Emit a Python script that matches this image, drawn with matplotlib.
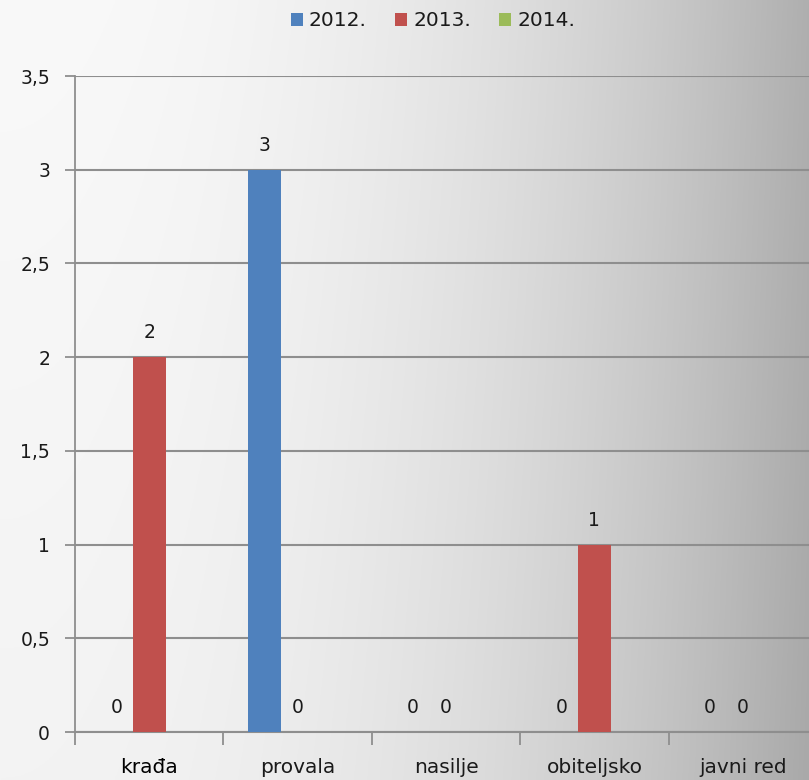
import numpy as np
import matplotlib
matplotlib.use("Agg")
import matplotlib.pyplot as plt
from matplotlib.patches import Patch
from matplotlib.ticker import FuncFormatter

categories = ["krađa", "provala", "nasilje", "obiteljsko", "javni red"]
series_names = ["2012.", "2013.", "2014."]
v2012 = [0, 3, 0, 0, 0]
v2013 = [2, 0, 0, 1, 0]
v2014 = [None, None, None, None, None]
colors = ["#4f81bd", "#c0504d", "#9bbb59"]

W, H = 809, 780
fig = plt.figure(figsize=(W / 100, H / 100), dpi=100)

# background gradient
bg = fig.add_axes([0, 0, 1, 1], zorder=-10)
xx = np.linspace(0, 1, 400)
yy = np.linspace(0, 1, 200)
X, Y = np.meshgrid(xx, yy)
G = 249 - 74 * X ** 2.2 - 6 * Y
img = np.dstack([G, G, G]) / 255.0
bg.imshow(img, aspect="auto", extent=[0, 1, 0, 1], origin="upper")
bg.set_axis_off()

# axes: left 75px, right ~817px, bottom y=732, top y=76
left = 75 / W
right = 817 / W
bottom = 1 - 732 / H
top = 1 - 76 / H
ax = fig.add_axes([left, bottom, right - left, top - bottom])
ax.patch.set_alpha(0)

n = len(categories)
x = np.arange(n)
bw = 0.222
all_series = [v2012, v2013, v2014]
for i, (vals, c) in enumerate(zip(all_series, colors)):
    off = (i - 1) * bw
    for xi, v in zip(x, vals):
        if v is None:
            continue
        ax.bar(xi + off, v, width=bw, color=c, zorder=3)
        ax.text(xi + off, v + 0.08, f"{v}", ha="center", va="bottom",
                fontsize=13.5, color="#1a1a1a", zorder=4)

ax.set_xlim(-0.5, n - 0.5)
ax.set_ylim(0, 3.5)
ax.set_yticks(np.arange(0, 3.51, 0.5))
ax.yaxis.set_major_formatter(FuncFormatter(
    lambda v, p: (f"{v:g}").replace(".", ",")))
ax.yaxis.grid(True, color="#8e8e8e", linewidth=1.5, zorder=1)
ax.set_axisbelow(True)

for s in ["top", "right"]:
    ax.spines[s].set_visible(False)
ax.spines["left"].set_color("#8e8e8e")
ax.spines["left"].set_linewidth(1.3)
ax.spines["bottom"].set_color("#8e8e8e")
ax.spines["bottom"].set_linewidth(1.5)

ax.tick_params(axis="y", length=7, width=1.3, color="#8e8e8e",
               labelsize=13.5, labelcolor="#1a1a1a", pad=11)
ax.set_xticks(np.arange(-0.5, n, 1.0))
ax.set_xticklabels([])
ax.tick_params(axis="x", length=9, width=1.3, color="#8e8e8e")
for xi, cat in zip(x, categories):
    ax.text(xi, -0.19, cat, ha="center", va="center", fontsize=14.5,
            color="#000000" if xi == 0 else "#1a1a1a",
            transform=ax.transData, clip_on=False)

handles = [Patch(facecolor=c, edgecolor="none") for c in colors]
fig.legend(handles, series_names, loc="center", bbox_to_anchor=(433 / W, 1 - 21 / H),
           ncol=3, frameon=False, fontsize=14.5, handlelength=0.6, handleheight=0.6,
           handletextpad=0.3, columnspacing=1.4, labelcolor="#1a1a1a")

fig.savefig("out.png", dpi=100)
